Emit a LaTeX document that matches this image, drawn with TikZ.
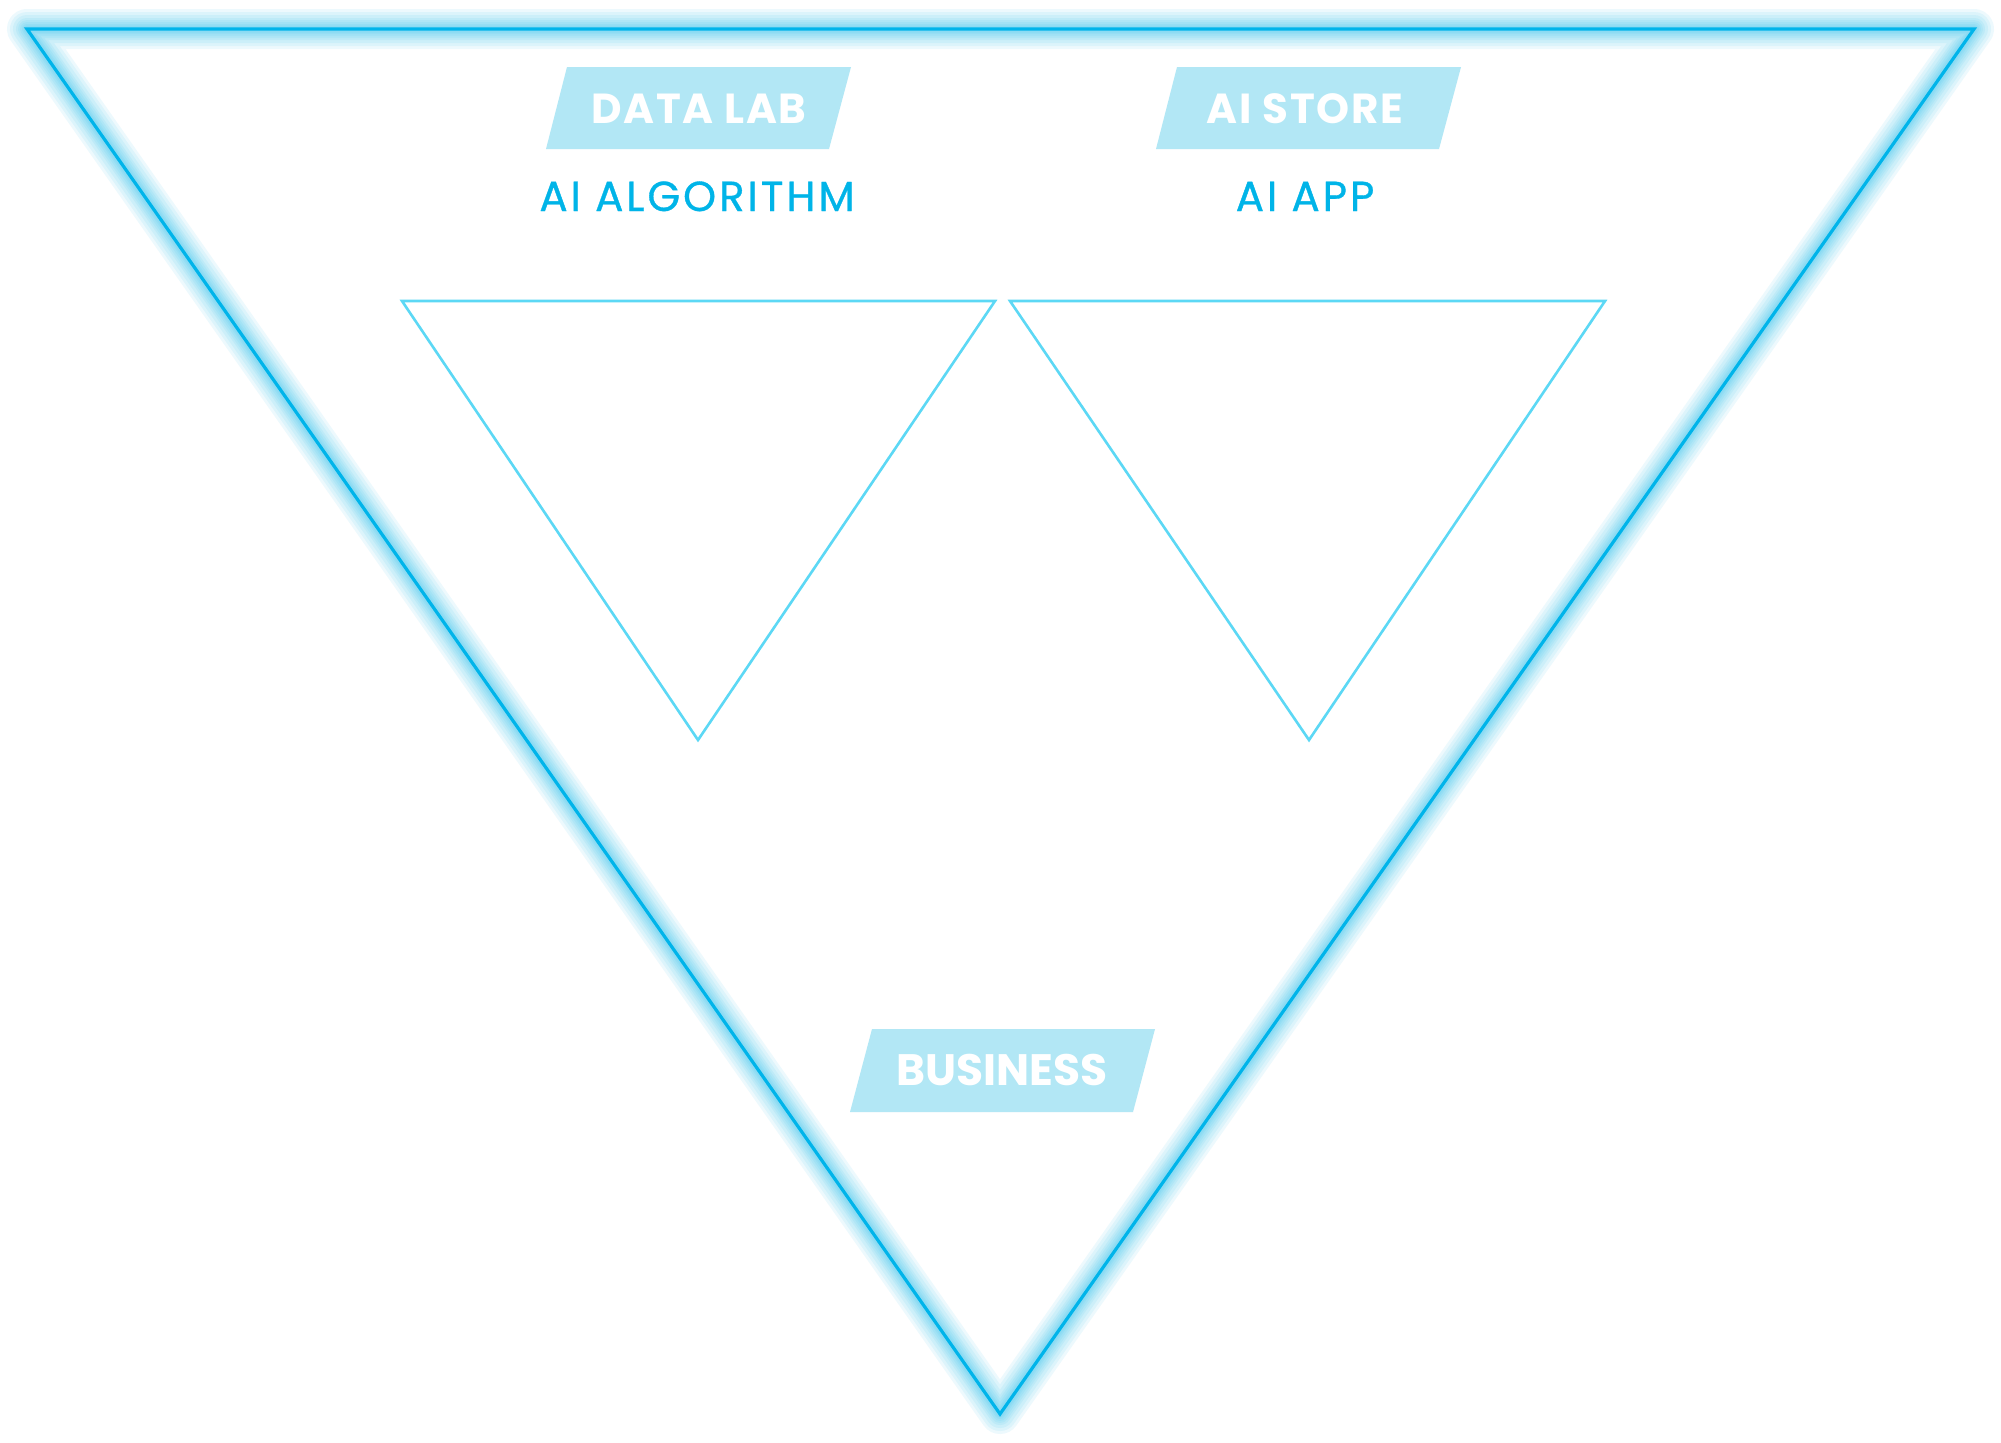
\documentclass[tikz,border=0pt]{standalone}
\usepackage{fontspec}
\setmainfont{Poppins}
\usetikzlibrary{positioning}
\definecolor{glowcyan}{HTML}{00B4EA}
\definecolor{innercyan}{HTML}{5CD8F5}
\definecolor{boxcyan}{HTML}{B2E7F5}
\definecolor{textcyan}{HTML}{00B4E8}

\begin{document}
\begin{tikzpicture}[x=0.5pt, y=-0.5pt,
	boxlabel/.style={color=white, font=\fontsize{21}{21}\selectfont\bfseries\addfontfeatures{LetterSpace=4}, anchor=base, inner sep=0pt},
	sublabel/.style={color=textcyan, font=\fontsize{21}{21}\selectfont\addfontfeatures{LetterSpace=7,FakeBold=0.8}, anchor=base, inner sep=0pt},
	innertri/.style={draw=innercyan, line width=1.3pt, line join=miter}]
	\useasboundingbox[fill=white] (0,0) rectangle (2001,1442);
	\coordinate (outerL) at (27,29);
	\coordinate (outerR) at (1974,29);
	\coordinate (outerB) at (1000,1414);
	\foreach \w in {20,17,14,11,9,7,5,3.5}
		\draw[color=glowcyan, line width=\w pt, opacity=0.07, line join=round] (outerL) -- (outerR) -- (outerB) -- cycle;
	\draw[color=glowcyan, line width=1.6pt, line join=miter] (outerL) -- (outerR) -- (outerB) -- cycle;
	\coordinate (leftL) at (402,301);
	\coordinate (leftR) at (995,301);
	\coordinate (leftB) at (698,740);
	\coordinate (rightL) at (1010,301);
	\coordinate (rightR) at (1605,301);
	\coordinate (rightB) at (1309,740);
	\draw[innertri] (leftL) -- (leftR) -- (leftB) -- cycle;
	\draw[innertri] (rightL) -- (rightR) -- (rightB) -- cycle;
	\fill[color=boxcyan] (567,67) -- (851,67) -- (829,149) -- (546,149) -- cycle;
	\node[boxlabel] (datalab) at (699,123) {DATA LAB};
	\node[sublabel] (algorithm) at (697,211) {AI ALGORITHM};
	\fill[color=boxcyan] (1177,67) -- (1461,67) -- (1439,149) -- (1156,149) -- cycle;
	\node[boxlabel] (aistore) at (1305,123) {AI STORE};
	\node[sublabel] (aiapp) at (1305,211) {AI APP};
	\fill[color=boxcyan] (872,1029) -- (1155,1029) -- (1133,1112) -- (850,1112) -- cycle;
	\node[boxlabel, font=\fontsize{22}{22}\selectfont\bfseries] (business) at (1002,1085) {BUSINESS};
\end{tikzpicture}
\end{document}
